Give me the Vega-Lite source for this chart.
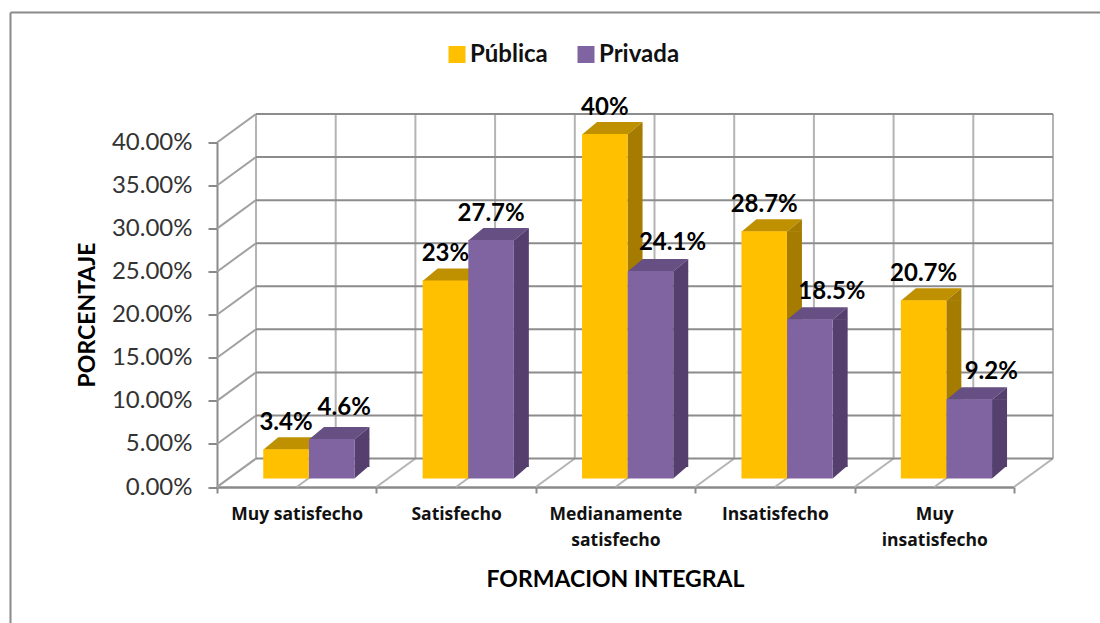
{
"$schema":"https://vega.github.io/schema/vega-lite/v6.json",
"width":797,"height":344.5,
"autosize":{"type":"none"},
"padding":{"left":217,"top":142.5,"right":86,"bottom":136},
"background":"white",
"config":{"view":{"stroke":null},"font":"Lato"},
"datasets":{
"bars":[
{"categoria":"Muy satisfecho","serie":"Pública","valor":0.034},
{"categoria":"Muy satisfecho","serie":"Privada","valor":0.046},
{"categoria":"Satisfecho","serie":"Pública","valor":0.23},
{"categoria":"Satisfecho","serie":"Privada","valor":0.277},
{"categoria":"Medianamente satisfecho","serie":"Pública","valor":0.4},
{"categoria":"Medianamente satisfecho","serie":"Privada","valor":0.241},
{"categoria":"Insatisfecho","serie":"Pública","valor":0.287},
{"categoria":"Insatisfecho","serie":"Privada","valor":0.185},
{"categoria":"Muy insatisfecho","serie":"Pública","valor":0.207},
{"categoria":"Muy insatisfecho","serie":"Privada","valor":0.092}
],
"niveles":[{"nivel":0},{"nivel":0.05},{"nivel":0.1},{"nivel":0.15},{"nivel":0.2},{"nivel":0.25},{"nivel":0.3},{"nivel":0.35},{"nivel":0.4}],
"cortes":[{"corte":0},{"corte":1},{"corte":2},{"corte":3},{"corte":4},{"corte":5},{"corte":6},{"corte":7},{"corte":8},{"corte":9},{"corte":10}]
},
"encoding":{
"y":{"type":"quantitative","scale":{"domain":[0,0.4],"nice":false,"zero":false}}
},
"resolve":{"scale":{"x":"independent"}},
"layer":[
{"layer":[
{"data":{"values":[{"marco":"borde"}]},"mark":{"type":"rule","color":"#8a8a8a","strokeWidth":2},"encoding":{"x":{"value":-206.5},"y":{"value":-130},"y2":{"value":481}}},
{"data":{"values":[{"marco":"borde"}]},"mark":{"type":"rule","color":"#8a8a8a","strokeWidth":2},"encoding":{"x":{"value":-206.5},"x2":{"value":883},"y":{"value":-130}}},
{"data":{"name":"cortes"},"mark":{"type":"rule","color":"#b4b4b4","strokeWidth":2,"xOffset":39,"yOffset":-28.5,"y2Offset":-28.5},
 "encoding":{"x":{"field":"corte","type":"quantitative","scale":{"domain":[0,10],"nice":false,"zero":false},"axis":null},"y":{"datum":0},"y2":{"datum":0.4}}},
{"data":{"name":"cortes"},"mark":{"type":"rule","color":"#b4b4b4","strokeWidth":2,"x2Offset":39,"y2Offset":-28.5},
 "encoding":{"x":{"field":"corte","type":"quantitative","axis":null},"x2":{"field":"corte"},"y":{"datum":0},"y2":{"datum":0}}},
{"data":{"name":"niveles"},"mark":{"type":"rule","color":"#a0a0a0","strokeWidth":2,"x2Offset":39,"y2Offset":-28.5},
 "encoding":{"x":{"datum":0,"type":"quantitative","axis":null},"x2":{"datum":0},"y":{"field":"nivel","type":"quantitative"},"y2":{"field":"nivel"}}},
{"data":{"name":"niveles"},"mark":{"type":"rule","color":"#8c8c8c","strokeWidth":2,"xOffset":39,"x2Offset":39,"yOffset":-28.5},
 "encoding":{"x":{"datum":0,"type":"quantitative","axis":null},"x2":{"datum":10},"y":{"field":"nivel","type":"quantitative"}}}
]},
{
"data":{"name":"bars"},
"encoding":{
"x":{"field":"categoria","type":"nominal","sort":null,"scale":{"domain":["Muy satisfecho","Satisfecho","Medianamente satisfecho","Insatisfecho","Muy insatisfecho"],"paddingInner":0,"paddingOuter":0},
 "axis":{"title":"FORMACION INTEGRAL","titleFont":"Lato","titleFontSize":23,"titleFontWeight":"bold","titleColor":"#000","titleX":398,"titleY":92,"titleBaseline":"middle",
 "labelAngle":0,"labelFont":"Open Sans","labelFontSize":17.5,"labelFontWeight":"bold","labelColor":"#111","labelPadding":12,"labelLineHeight":26,"labelBaseline":"top","labelLimit":200,
 "labelExpr":"datum.label=='Medianamente satisfecho'?['Medianamente','satisfecho']:datum.label=='Muy insatisfecho'?['Muy','insatisfecho']:datum.label",
 "tickBand":"extent","tickSize":6,"tickColor":"#8a8a8a","tickWidth":2,"domainColor":"#8a8a8a","domainWidth":2.5}},
"y":{"field":"valor","type":"quantitative","axis":{"title":"PORCENTAJE","titleFont":"Lato","titleFontSize":23,"titleFontWeight":"bold","titleColor":"#000","titleX":-130,"titleY":172,"titleBaseline":"middle",
 "values":[0,0.05,0.1,0.15,0.2,0.25,0.3,0.35,0.4],"format":".2%","labelFont":"Lato","labelFontSize":24,"labelColor":"#333","labelPadding":16,"tickSize":9,"tickColor":"#8a8a8a","tickWidth":2,"domainColor":"#8a8a8a","domainWidth":2,"grid":false}},
"text":{"field":"valor","type":"quantitative","format":".1~%"}
},
"layer":[
{"transform":[{"filter":"datum.serie=='Pública'"}],"mark":{"type":"bar","size":15,"color":"#A67C00","xOffset":19.55,"yOffset":-8.5,"y2Offset":-20},"encoding":{"y2":{"datum":0},"text":{"value":""}}},
{"transform":[{"filter":"datum.serie=='Pública'"}],"mark":{"type":"point","filled":true,"opacity":1,"size":4,"color":"#BF9000","strokeWidth":0,"xOffset":-10.7,"yOffset":-8.5,"shape":"M-22.75,0.5 L22.75,0.5 L37.75,-12 L-7.75,-12 Z"},"encoding":{"text":{"value":""}}},
{"transform":[{"filter":"datum.serie=='Pública'"}],"mark":{"type":"point","filled":true,"opacity":1,"size":4,"color":"#A67C00","strokeWidth":0,"xOffset":-10.7,"yOffset":-8.5,"shape":"M22.75,0.5 L37.75,-12 L37.75,0.5 Z"},"encoding":{"text":{"value":""}}},
{"transform":[{"filter":"datum.serie=='Pública'"}],"mark":{"type":"point","filled":true,"opacity":1,"size":4,"color":"#A67C00","strokeWidth":0,"xOffset":-10.7,"yOffset":-8.5,"shape":"M22.75,0 L37.75,-13 L22.75,-13 Z"},"encoding":{"y":{"datum":0},"text":{"value":""}}},
{"transform":[{"filter":"datum.serie=='Pública'"}],"mark":{"type":"bar","size":45.5,"xOffset":-10.7,"yOffset":-8.5,"y2Offset":-8.5},"encoding":{"y2":{"datum":0},"text":{"value":""},
 "color":{"field":"serie","type":"nominal","sort":null,"scale":{"domain":["Pública","Privada"],"range":["#FFC000","#8064A2"]},
 "legend":{"title":null,"orient":"none","legendX":228,"legendY":-100,"direction":"horizontal","columns":2,"symbolType":"square","symbolSize":289,"symbolStrokeWidth":0,"labelFont":"Lato","labelFontSize":24,"labelFontWeight":"bold","labelColor":"#111","columnPadding":26,"labelOffset":1}}}},
{"transform":[{"filter":"datum.serie=='Privada'"}],"mark":{"type":"bar","size":15,"color":"#543F6E","xOffset":65.25,"yOffset":-8.5,"y2Offset":-20},"encoding":{"y2":{"datum":0},"text":{"value":""}}},
{"transform":[{"filter":"datum.serie=='Privada'"}],"mark":{"type":"point","filled":true,"opacity":1,"size":4,"color":"#664F82","strokeWidth":0,"xOffset":35,"yOffset":-8.5,"shape":"M-22.75,0.5 L22.75,0.5 L37.75,-12 L-7.75,-12 Z"},"encoding":{"text":{"value":""}}},
{"transform":[{"filter":"datum.serie=='Privada'"}],"mark":{"type":"point","filled":true,"opacity":1,"size":4,"color":"#543F6E","strokeWidth":0,"xOffset":35,"yOffset":-8.5,"shape":"M22.75,0.5 L37.75,-12 L37.75,0.5 Z"},"encoding":{"text":{"value":""}}},
{"transform":[{"filter":"datum.serie=='Privada'"}],"mark":{"type":"point","filled":true,"opacity":1,"size":4,"color":"#543F6E","strokeWidth":0,"xOffset":35,"yOffset":-8.5,"shape":"M22.75,0 L37.75,-13 L22.75,-13 Z"},"encoding":{"y":{"datum":0},"text":{"value":""}}},
{"transform":[{"filter":"datum.serie=='Privada'"}],"mark":{"type":"bar","size":45.5,"xOffset":35,"yOffset":-8.5,"y2Offset":-8.5},"encoding":{"y2":{"datum":0},"text":{"value":""},"color":{"field":"serie","type":"nominal","sort":null}}},
{"transform":[{"filter":"datum.serie=='Pública'"}],"mark":{"type":"text","font":"Lato","fontSize":24,"fontWeight":"bold","color":"#000","baseline":"middle","xOffset":-10.7,"yOffset":-34.5}},
{"transform":[{"filter":"datum.serie=='Privada' && datum.categoria=='Muy satisfecho'"}],"mark":{"type":"text","font":"Lato","fontSize":24,"fontWeight":"bold","color":"#000","baseline":"middle","xOffset":47.5,"yOffset":-39.5}},
{"transform":[{"filter":"datum.serie=='Privada' && datum.categoria=='Satisfecho'"}],"mark":{"type":"text","font":"Lato","fontSize":24,"fontWeight":"bold","color":"#000","baseline":"middle","xOffset":35,"yOffset":-34.5}},
{"transform":[{"filter":"datum.serie=='Privada' && datum.categoria!='Muy satisfecho' && datum.categoria!='Satisfecho'"}],"mark":{"type":"text","font":"Lato","fontSize":24,"fontWeight":"bold","color":"#000","baseline":"middle","xOffset":57,"yOffset":-36}}
]
}
]
}
